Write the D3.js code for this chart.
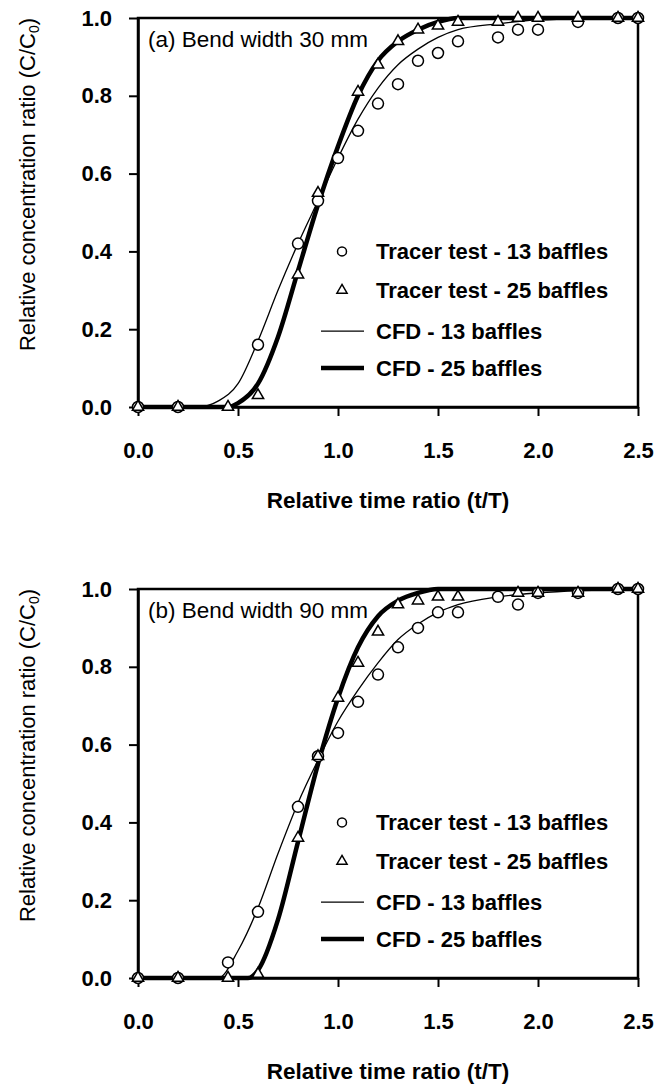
<!DOCTYPE html>
<html>
<head>
<meta charset="utf-8">
<script src="https://cdn.jsdelivr.net/npm/d3@7"></script>
<style>
  body { margin: 0; background: #fff; }
  text { font-family: "Liberation Sans", Arial, sans-serif; }
</style>
</head>
<body>
<div id="chart"></div>
<script>
const xTicks = [0, 0.5, 1.0, 1.5, 2.0, 2.5];
const yTicks = [0, 0.2, 0.4, 0.6, 0.8, 1.0];
const legendLabels = ["Tracer test - 13 baffles", "Tracer test - 25 baffles", "CFD - 13 baffles", "CFD - 25 baffles"];

// panel (a) bend width 30 mm
const a_tracer13 = [[0,0],[0.2,0],[0.6,0.16],[0.8,0.42],[0.9,0.53],[1.0,0.64],[1.1,0.71],[1.2,0.78],[1.3,0.83],[1.4,0.89],[1.5,0.91],[1.6,0.94],[1.8,0.95],[1.9,0.97],[2.0,0.97],[2.2,0.99],[2.4,1.0],[2.5,1.0]];
const a_tracer25 = [[0,0],[0.2,0],[0.45,0],[0.6,0.03],[0.8,0.34],[0.9,0.55],[1.1,0.81],[1.2,0.88],[1.3,0.94],[1.4,0.97],[1.5,0.98],[1.6,0.99],[1.8,0.99],[1.9,1.0],[2.0,1.0],[2.2,1.0],[2.4,1.0],[2.5,1.0]];
const a_cfd13 = [[0,0],[0.3,0],[0.4,0.015],[0.5,0.06],[0.6,0.17],[0.7,0.3],[0.8,0.42],[0.9,0.53],[1.0,0.64],[1.1,0.74],[1.2,0.82],[1.3,0.88],[1.4,0.92],[1.5,0.95],[1.6,0.97],[1.8,0.985],[2.0,0.995],[2.5,1.0]];
const a_cfd25 = [[0,0],[0.45,0],[0.5,0.01],[0.6,0.06],[0.7,0.18],[0.8,0.35],[0.9,0.52],[1.0,0.67],[1.1,0.8],[1.2,0.89],[1.3,0.94],[1.4,0.97],[1.5,0.99],[1.6,1.0],[2.5,1.0]];

// panel (b) bend width 90 mm
const b_tracer13 = [[0,0],[0.2,0],[0.45,0.04],[0.6,0.17],[0.8,0.44],[0.9,0.57],[1.0,0.63],[1.1,0.71],[1.2,0.78],[1.3,0.85],[1.4,0.9],[1.5,0.94],[1.6,0.94],[1.8,0.98],[1.9,0.96],[2.0,0.99],[2.2,0.99],[2.4,1.0],[2.5,1.0]];
const b_tracer25 = [[0,0],[0.2,0],[0.45,0],[0.6,0.01],[0.8,0.36],[0.9,0.57],[1.0,0.72],[1.1,0.81],[1.2,0.89],[1.3,0.96],[1.4,0.97],[1.5,0.98],[1.6,0.98],[1.9,0.99],[2.0,0.99],[2.2,0.99],[2.4,1.0],[2.5,1.0]];
const b_cfd13 = [[0,0],[0.4,0],[0.5,0.07],[0.6,0.18],[0.7,0.32],[0.8,0.45],[0.9,0.56],[1.0,0.66],[1.1,0.74],[1.2,0.81],[1.3,0.87],[1.4,0.91],[1.5,0.94],[1.6,0.96],[1.8,0.98],[2.0,0.99],[2.5,1.0]];
const b_cfd25 = [[0,0],[0.55,0],[0.6,0.02],[0.7,0.15],[0.8,0.35],[0.9,0.55],[1.0,0.72],[1.1,0.85],[1.2,0.93],[1.3,0.97],[1.4,0.99],[1.5,1.0],[2.5,1.0]];

// legend rows, in y units
const legendRows = [0.40, 0.30, 0.195, 0.10];

const svg = d3.select("#chart").append("svg")
    .attr("width", 665)
    .attr("height", 1086);

function panel(top, bottom, label, tracer13, tracer25, cfd13, cfd25) {
  const left = 138, right = 638;
  const x = d3.scaleLinear().domain([0, 2.5]).range([left, right]);
  const y = d3.scaleLinear().domain([0, 1]).range([bottom, top]);
  const g = svg.append("g");

  // frame
  g.append("rect")
    .attr("x", left).attr("y", top)
    .attr("width", right - left).attr("height", bottom - top)
    .attr("fill", "none").attr("stroke", "#000").attr("stroke-width", 2.5);

  const xa = g.append("g")
    .attr("transform", "translate(0," + bottom + ")")
    .call(d3.axisBottom(x).tickValues(xTicks).tickFormat(d3.format(".1f")).tickSize(9).tickPadding(26).tickSizeOuter(0));
  const ya = g.append("g")
    .attr("transform", "translate(" + left + ",0)")
    .call(d3.axisLeft(y).tickValues(yTicks).tickFormat(d3.format(".1f")).tickSize(9).tickPadding(17).tickSizeOuter(0));
  [xa, ya].forEach(a => {
    a.select(".domain").attr("stroke-width", 2.5);
    a.selectAll(".tick line").attr("stroke-width", 2);
    a.selectAll("text").attr("font-size", 22).attr("fill", "#000")
      .attr("font-family", "Liberation Sans, Arial, sans-serif").attr("font-weight", "bold");
  });

  // axis titles
  g.append("text")
    .attr("x", (left + right) / 2)
    .attr("y", bottom + 101)
    .attr("text-anchor", "middle")
    .attr("font-size", 22.5)
    .attr("font-weight", "bold")
    .text("Relative time ratio (t/T)");
  const yt = g.append("text")
    .attr("transform", "translate(35," + ((top + bottom) / 2 - 28) + ") rotate(-90)")
    .attr("text-anchor", "middle")
    .attr("font-size", 22);
  yt.append("tspan").text("Relative concentration ratio (C/C");
  yt.append("tspan").attr("font-size", 14).attr("dy", 4).text("0");
  yt.append("tspan").attr("dy", -4).text(")");

  // panel label
  g.append("text")
    .attr("x", left + 10)
    .attr("y", top + 29)
    .attr("font-size", 22.5)
    .text(label);

  const line = d3.line().x(d => x(d[0])).y(d => y(d[1])).curve(d3.curveMonotoneX);
  g.append("path").datum(cfd13)
    .attr("d", line).attr("fill", "none").attr("stroke", "#000").attr("stroke-width", 1.3);
  g.append("path").datum(cfd25)
    .attr("d", line).attr("fill", "none").attr("stroke", "#000").attr("stroke-width", 4.5);

  g.selectAll(".c13").data(tracer13).enter().append("circle")
    .attr("cx", d => x(d[0])).attr("cy", d => y(d[1])).attr("r", 5.5)
    .attr("fill", "#fff").attr("stroke", "#000").attr("stroke-width", 1.5);
  const tri = d3.symbol().type(d3.symbolTriangle).size(55);
  g.selectAll(".t25").data(tracer25).enter().append("path")
    .attr("d", tri)
    .attr("transform", d => "translate(" + x(d[0]) + "," + y(d[1]) + ")")
    .attr("fill", "#fff").attr("stroke", "#000").attr("stroke-width", 1.5);

  // legend
  const mx = x(1.02), tx = 376;
  const rowY = legendRows.map(v => y(v));
  g.append("circle").attr("cx", mx).attr("cy", rowY[0]).attr("r", 4.5)
    .attr("fill", "#fff").attr("stroke", "#000").attr("stroke-width", 1.5);
  g.append("path").attr("d", d3.symbol().type(d3.symbolTriangle).size(45))
    .attr("transform", "translate(" + mx + "," + rowY[1] + ")")
    .attr("fill", "#fff").attr("stroke", "#000").attr("stroke-width", 1.5);
  g.append("line").attr("x1", 321).attr("x2", 364).attr("y1", rowY[2]).attr("y2", rowY[2])
    .attr("stroke", "#000").attr("stroke-width", 1.3);
  g.append("line").attr("x1", 321).attr("x2", 364).attr("y1", rowY[3]).attr("y2", rowY[3])
    .attr("stroke", "#000").attr("stroke-width", 4.5);
  legendLabels.forEach((t, i) => {
    g.append("text")
      .attr("x", tx)
      .attr("y", rowY[i] + 8)
      .attr("font-size", 22)
      .attr("font-weight", "bold")
      .text(t);
  });
}

panel(18, 407, "(a) Bend width 30 mm", a_tracer13, a_tracer25, a_cfd13, a_cfd25);
panel(589, 978, "(b) Bend width 90 mm", b_tracer13, b_tracer25, b_cfd13, b_cfd25);
</script>
</body>
</html>
